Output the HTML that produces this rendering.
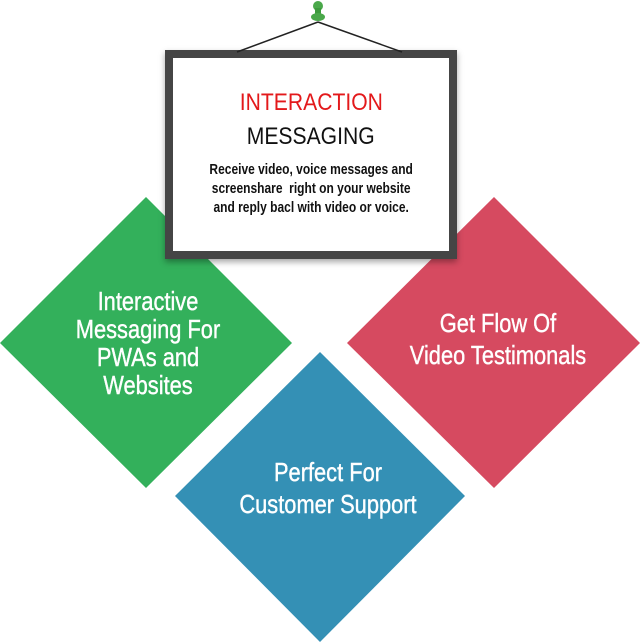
<!DOCTYPE html>
<html><head><style>
body{margin:0;width:640px;height:643px;background:#fff;overflow:hidden;position:relative;font-family:"Liberation Sans",sans-serif}
svg{position:absolute;left:0;top:0}
.t{position:absolute;color:#fff;text-align:center;font-size:26px;line-height:28px;transform:translate(-50%,-50%) scaleX(0.84);white-space:nowrap;font-weight:500;-webkit-text-stroke:0.4px #fff}
#frame{position:absolute;left:165px;top:50px;width:276px;height:193px;border:8px solid #454545;background:#fff;box-shadow:0 3px 6px rgba(0,0,0,.35);text-align:center}
.sx{display:inline-block;transform:scaleX(0.88);white-space:nowrap}
</style></head><body>
<svg width="640" height="643">
<polygon points="146,197 292,343 146,488 0,343" fill="#33b05b"/>
<polygon points="494,197 640,343 494,488 347,343" fill="#d64a60"/>
<polygon points="320,352 465,496 320,642 175,496" fill="#3490b5"/>
</svg>
<div class="t" style="left:148px;top:343px">Interactive<br>Messaging For<br>PWAs and<br>Websites</div>
<div class="t" style="left:498px;top:339px;line-height:32px">Get Flow Of<br>Video Testimonals</div>
<div class="t" style="left:328px;top:488px;line-height:32px">Perfect For<br>Customer Support</div>
<div id="frame">
<div style="margin-top:30px;font-size:24px;color:#e3191b;line-height:30px"><span class="sx">INTERACTION</span></div>
<div style="font-size:24px;color:#111;line-height:34px;margin-top:2px"><span class="sx">MESSAGING</span></div>
<div style="font-size:15px;color:#111;line-height:19px;margin-top:6px;font-weight:bold"><span class="sx" style="transform:scaleX(0.8)">Receive video, voice messages and<br>screenshare&nbsp; right on your website<br>and reply bacl with video or voice.</span></div>
</div>
<svg width="640" height="60">
<line x1="318" y1="22" x2="237" y2="52" stroke="#222" stroke-width="1.5"/>
<line x1="318" y1="22" x2="402" y2="52" stroke="#222" stroke-width="1.5"/>
<circle cx="318" cy="6" r="5" fill="#4aa84a"/>
<rect x="315" y="8" width="6" height="8" fill="#3d9a3d"/>
<ellipse cx="318" cy="17" rx="7" ry="4" fill="#4aa84a"/>
</svg>
</body></html>
